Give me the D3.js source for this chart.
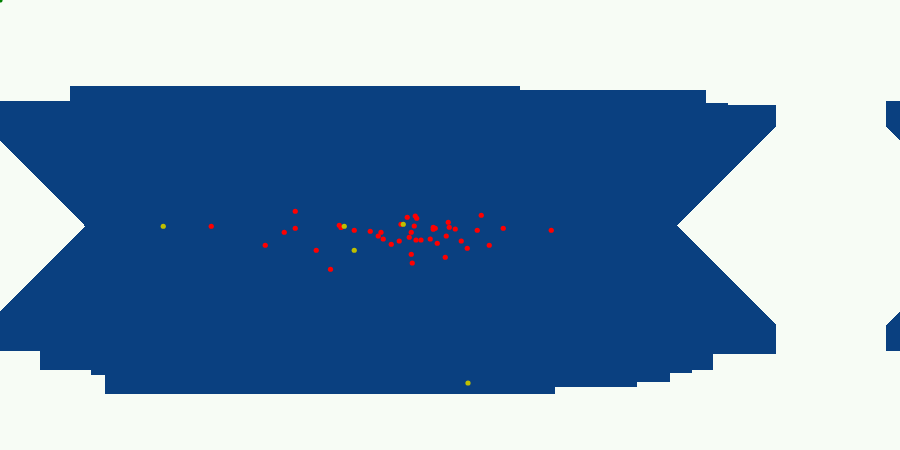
<!DOCTYPE html>
<html>
<head>
<meta charset="utf-8">
<script src="https://cdn.jsdelivr.net/npm/d3@7"></script>
<style>
html,body{margin:0;padding:0;background:#f7fcf5;}
svg{display:block;}
</style>
</head>
<body>
<script>
// Region outline (longitude / latitude units)
const topEdge = [ // [lon, lat] going west -> east
  [-185.6, 50], [-152, 50], [-152, 56], [28, 56], [28, 54.4],
  [102.4, 54.4], [102.4, 49.2], [111.2, 49.2], [111.2, 48.4], [130.4, 48.4]
];
const eastNotch = [[130.4, 40], [90.8, 0], [130.4, -39.6]];
const bottomEdge = [ // east -> west
  [130.4, -51.2], [105.2, -51.2], [105.2, -57.6], [96.8, -57.6], [96.8, -58.8],
  [88, -58.8], [88, -62.4], [74.8, -62.4], [74.8, -64.4], [42, -64.4], [42, -67.2],
  [-138, -67.2], [-138, -59.6], [-143.6, -59.6], [-143.6, -57.6], [-164, -57.6],
  [-164, -50], [-185.6, -50]
];
const westNotch = [[-185.6, -39.6], [-146, 0], [-185.6, 40]];
const wrapOffsets = [0, 360];

// Sites
const redLon = [-95.5,-61.9,-66.3,-61.9,-73.9,-53.5,-47.8,-44.3,-43.6,-38.3,-31.9,-27.6,-28.7,-26.7,-23.5,-20.3,-19.6,-17.1,-13.9,-13.3,-14.3,-15.5,-16.3,-13.6,-11.6,-7.9,-6.7,-5.9,-6.7,-5.1,-0.7,-0.3,2.1,-1.5,4.5,6.9,-15.5,-15.1,-1.9,12.5,10.9,15.7,21.3,40.5];
const redLat = [-0.1,5.9,-2.5,-0.9,-7.7,-9.7,-17.3,0.3,-0.6,-1.7,-2.1,-2.5,-4,-5.2,-7.3,-6,0.7,3.5,4,3.1,0,-2.5,-4.5,-5.6,-5.6,-5.2,-0.5,-0.9,-1.3,-6.9,1.5,-0.5,-1.2,-4,-6,-8.9,-11.3,-14.8,-12.5,4.3,-1.7,-7.7,-0.9,-1.7];
const yellowLon = [-114.7,-42.3,-38.3,-18.7,7.2];
const yellowLat = [-0.1,-0.1,-9.7,0.7,-62.8];
const greenLon = [-180];
const greenLat = [90.4];

const W = 900, H = 450;
const x = d3.scaleLinear().domain([-180, 180]).range([0, 900]);
const y = d3.scaleLinear().domain([-90, 90]).range([451, 1]);

const svg = d3.select("body").append("svg").attr("width", W).attr("height", H);
svg.append("rect").attr("width", W).attr("height", H).attr("fill", "#f7fcf5");

const outline = [...topEdge, ...eastNotch, ...bottomEdge, ...westNotch];
const line = d3.line().x(d => x(d[0])).y(d => y(d[1]));

svg.selectAll("path.region").data(wrapOffsets).join("path")
  .attr("class", "region")
  .attr("d", off => line(outline.map(p => [p[0] + off, p[1]])) + "Z")
  .attr("fill", "#0a4080")
  .attr("shape-rendering", "crispEdges");

function dots(lons, lats, color) {
  svg.append("g").selectAll("circle").data(lons.map((d, i) => [d, lats[i]])).join("circle")
    .attr("cx", d => x(d[0])).attr("cy", d => y(d[1])).attr("r", 2.6).attr("fill", color);
}
dots(redLon, redLat, "#ff0000");
dots(yellowLon, yellowLat, "#bfbf00");
dots(greenLon, greenLat, "#008000");
</script>
</body>
</html>
